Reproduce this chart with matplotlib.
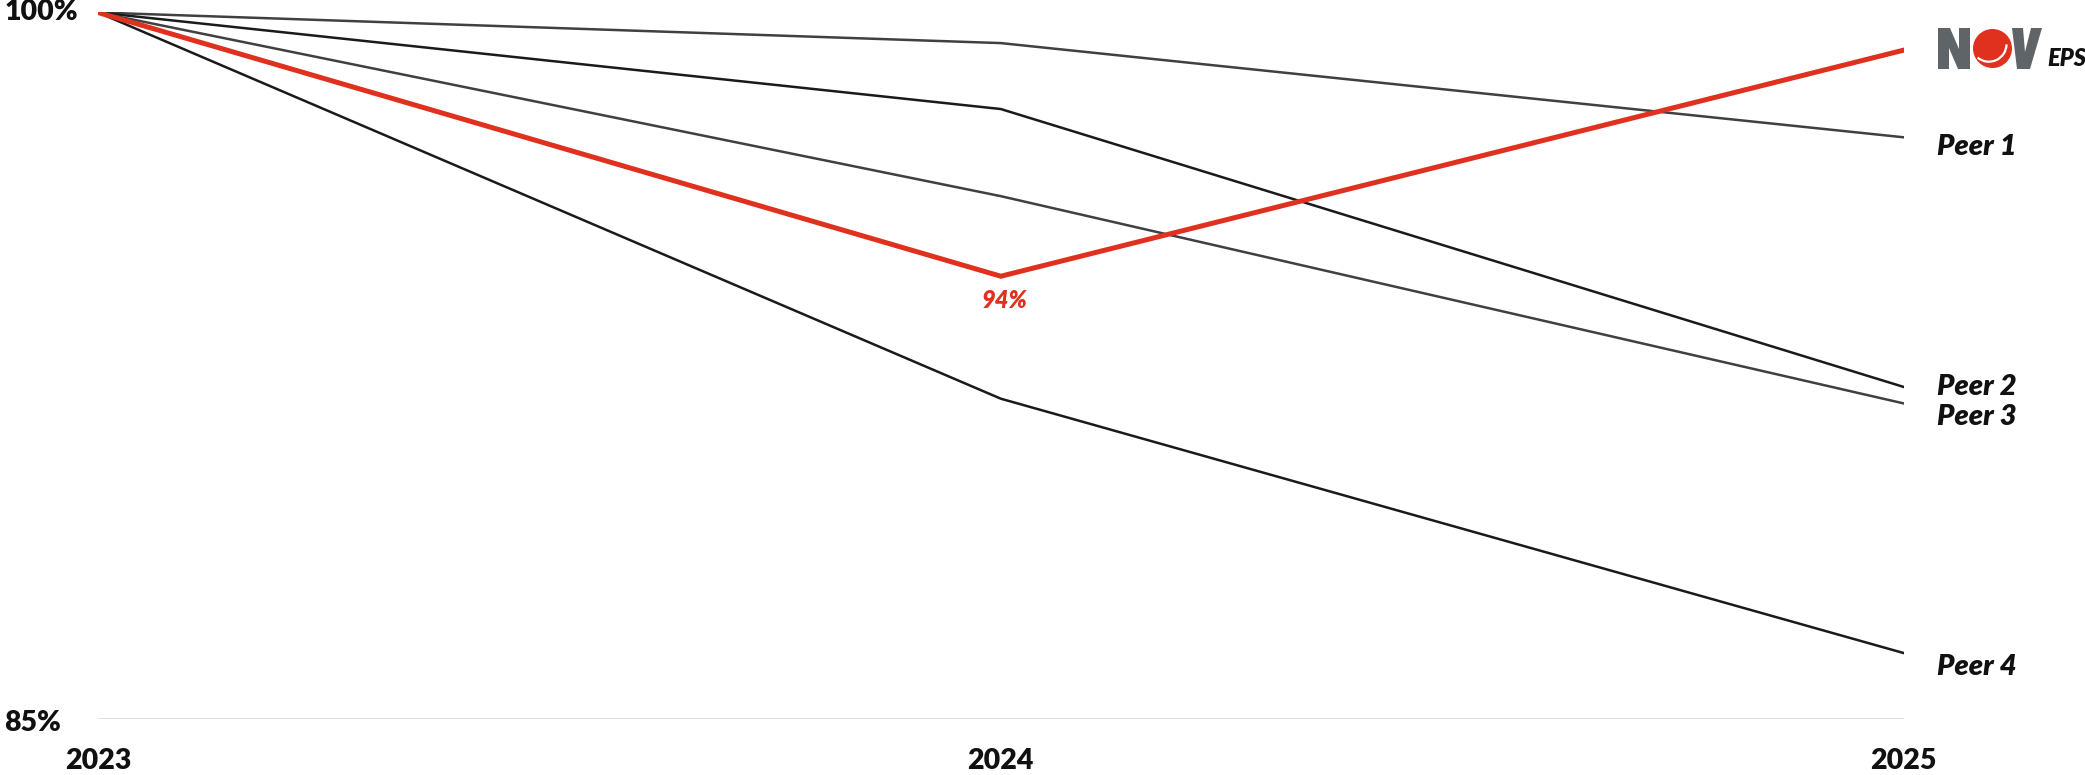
import matplotlib.pyplot as plt
import matplotlib.transforms as mtransforms
from matplotlib.patches import Polygon, Circle, Arc

plt.rcParams['font.family'] = ['Lato', 'DejaVu Sans']

# --- Data: indexed EPS trend (2023 = 100%) ---
years = [2023, 2024, 2025]
nov_eps = [100.0, 94.4, 99.2]
peers = {
    'Peer 1': [100.0, 99.35, 97.35],
    'Peer 2': [100.0, 97.95, 92.05],
    'Peer 3': [100.0, 96.1, 91.7],
    'Peer 4': [100.0, 91.8, 86.4],
}
peer_colors = ['#404040', '#1a1a1a', '#404040', '#1a1a1a']
# label nudges (in % units) so end labels don't collide
label_offsets = [-0.2, 0.0, -0.28, -0.3]
y_ticks = [85, 100]
y_tick_labels = ['85%', '100%']

RED = '#e0301e'
LOGO_GRAY = '#5f6469'
TXT = '#111111'
W = 'heavy'

fig = plt.figure(figsize=(20.85, 7.75), dpi=100)
ax = fig.add_axes([0.047, 0.0723, 0.866, 0.9116])

for (name, vals), c in zip(peers.items(), peer_colors):
    ax.plot(years, vals, color=c, lw=1.8, solid_joinstyle='miter')
ax.plot(years, nov_eps, color=RED, lw=3.6, solid_joinstyle='miter', zorder=5)

# low-point callout
ax.annotate(f'{nov_eps[1]:.0f}%', xy=(years[1], nov_eps[1]), xytext=(3, -9),
            textcoords='offset points', ha='center', va='top', color=RED,
            fontsize=17, fontweight=W, fontstyle='italic')

# end labels
for (name, vals), off in zip(peers.items(), label_offsets):
    ax.annotate(name, xy=(years[-1], vals[-1] + off), xytext=(24, 0),
                textcoords='offset points', ha='left', va='center',
                fontsize=21, fontweight=W, fontstyle='italic',
                color=TXT, annotation_clip=False)

ax.set_xlim(years[0], years[-1])
ax.set_ylim(85, 100)
ax.axhline(85, color='#d9d9d9', lw=1.8, zorder=0)

ax.set_xticks(years)
ax.set_xticklabels([str(y) for y in years], fontsize=20.5, fontweight=W, color=TXT)
ax.tick_params(axis='x', length=0, pad=21)
ax.set_yticks([])
for s in ax.spines.values():
    s.set_visible(False)

# y labels, left aligned at the figure edge
trans = mtransforms.blended_transform_factory(fig.transFigure, ax.transData)
for v, lab in zip(y_ticks, y_tick_labels):
    ax.text(0.002, v - (0.08 if v == 85 else -0.02), lab, transform=trans,
            ha='left', va='center', fontsize=20.5, fontweight=W, color=TXT)

# NOV logo + EPS tag next to the red line end
lax = fig.add_axes([1938 / 2085, 1 - 69 / 775, 105 / 2085, 41 / 775])
lax.set_xlim(0, 105)
lax.set_ylim(0, 41)
lax.axis('off')
lax.add_patch(Polygon([(0, 0), (0, 41), (12, 41), (21, 20), (21, 41), (32, 41),
                       (32, 0), (20, 0), (11, 21), (11, 0)], closed=True,
                      color=LOGO_GRAY, lw=0))
lax.add_patch(Circle((54.5, 20.5), 19.5, color=RED, lw=0))
lax.add_patch(Arc((50.9, 24.9), 35.2, 35.2, theta1=230, theta2=359,
                  color='white', lw=1.6))
lax.add_patch(Polygon([(74, 41), (79, 0), (92, 0), (104, 41), (93, 41),
                       (87, 17), (85, 41)], closed=True, color=LOGO_GRAY, lw=0))
fig.text(2047 / 2085, 1 - 58 / 775, 'EPS', ha='left', va='center', fontsize=17,
         fontweight=W, fontstyle='italic', color=TXT)

fig.savefig('out.png', dpi=100)
